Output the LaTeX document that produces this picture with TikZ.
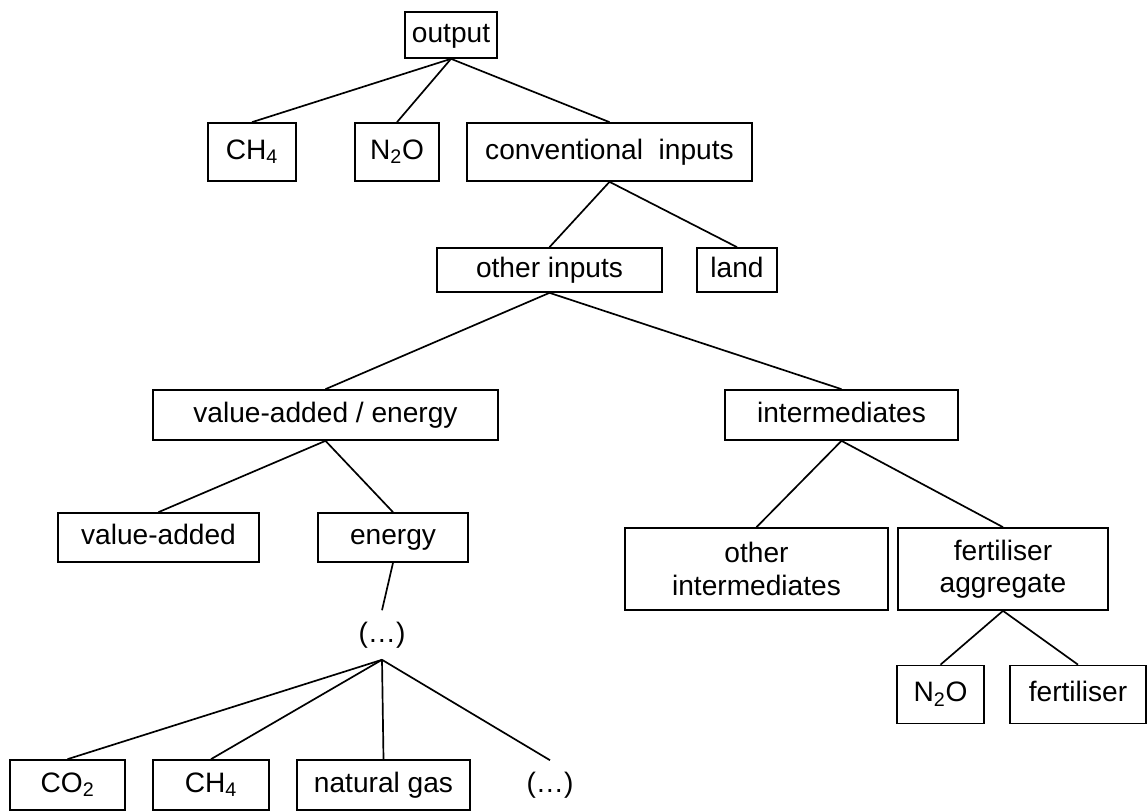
\documentclass[tikz,border=0pt]{standalone}
\usepackage{fontspec}
\setmainfont{Liberation Sans}
\usepackage{tikz}
\usetikzlibrary{positioning}

\begin{document}
\begin{tikzpicture}[
  box/.style={rectangle, draw=black, line width=1.2pt, inner sep=0pt,
    minimum height=1.25cm, font=\fontsize{20}{23}\selectfont, align=center,
    text height=14.5pt, text depth=4.2pt},
  bigbox/.style={rectangle, draw=black, line width=1.2pt, inner sep=0pt,
    minimum height=2.05cm, font=\fontsize{20}{23}\selectfont, align=center},
  gap/.style={rectangle, inner sep=0pt, minimum height=1.225cm,
    font=\fontsize{20}{23}\selectfont, text height=14.5pt, text depth=4.2pt},
  link/.style={black, line width=1.2pt}
]
\useasboundingbox (0,0) rectangle (28.7,-20.275);

% Top levels
\node[box, minimum width=2.3cm, minimum height=1.15cm] (output) at (11.275,-0.875) {output};
\node[box, minimum width=2.2cm, minimum height=1.45cm] (ch4a) at (6.3,-3.8) {CH\textsubscript{4}};
\node[box, minimum width=2.1cm, minimum height=1.45cm] (n2oa) at (9.925,-3.8) {N\textsubscript{2}O};
\node[box, minimum width=7.125cm, minimum height=1.45cm] (conv) at (15.2375,-3.8) {conventional~~inputs};
\node[box, minimum width=5.625cm, minimum height=1.1cm] (other) at (13.7375,-6.75) {other inputs};
\node[box, minimum width=2.0cm, minimum height=1.1cm] (land) at (18.425,-6.75) {land};

% Value-added / energy branch
\node[box, minimum width=8.625cm] (vae) at (8.1375,-10.375) {value-added / energy};
\node[box, minimum width=5.025cm, minimum height=1.225cm] (va) at (3.9625,-13.4375) {value-added};
\node[box, minimum width=3.75cm, minimum height=1.225cm] (energy) at (9.825,-13.4375) {energy};
\node[gap] (dotsa) at (9.55,-15.875) {(…)};
\node[box, minimum width=2.875cm] (co2) at (1.6875,-19.625) {CO\textsubscript{2}};
\node[box, minimum width=2.9cm] (ch4b) at (5.275,-19.625) {CH\textsubscript{4}};
\node[box, minimum width=4.325cm] (gas) at (9.5875,-19.625) {natural gas};
\node[gap] (dotsb) at (13.75,-19.625) {(…)};

% Intermediates branch
\node[box, minimum width=5.825cm] (interm) at (21.0375,-10.375) {intermediates};
\node[bigbox, minimum width=6.575cm] (othint) at (18.9125,-14.225) {other\\intermediates};
\node[bigbox, minimum width=5.25cm] (fertagg) at (25.075,-14.225) {fertiliser\\aggregate};
\node[box, minimum width=2.175cm, minimum height=1.45cm] (n2ob) at (23.5125,-17.3625) {N\textsubscript{2}O};
\node[box, minimum width=3.4cm, minimum height=1.45cm] (fert) at (26.95,-17.3625) {fertiliser};

% Links
\draw[link] (output.south) -- (ch4a.north);
\draw[link] (output.south) -- (n2oa.north);
\draw[link] (output.south) -- (conv.north);
\draw[link] (conv.south) -- (other.north);
\draw[link] (conv.south) -- (land.north);
\draw[link] (other.south) -- (vae.north);
\draw[link] (other.south) -- (interm.north);
\draw[link] (vae.south) -- (va.north);
\draw[link] (vae.south) -- (energy.north);
\draw[link] (energy.south) -- (dotsa.north);
\draw[link] (dotsa.south) -- (co2.north);
\draw[link] (dotsa.south) -- (ch4b.north);
\draw[link] (dotsa.south) -- (gas.north);
\draw[link] (dotsa.south) -- (dotsb.north);
\draw[link] (interm.south) -- (othint.north);
\draw[link] (interm.south) -- (fertagg.north);
\draw[link] (fertagg.south) -- (n2ob.north);
\draw[link] (fertagg.south) -- (fert.north);

\end{tikzpicture}
\end{document}
